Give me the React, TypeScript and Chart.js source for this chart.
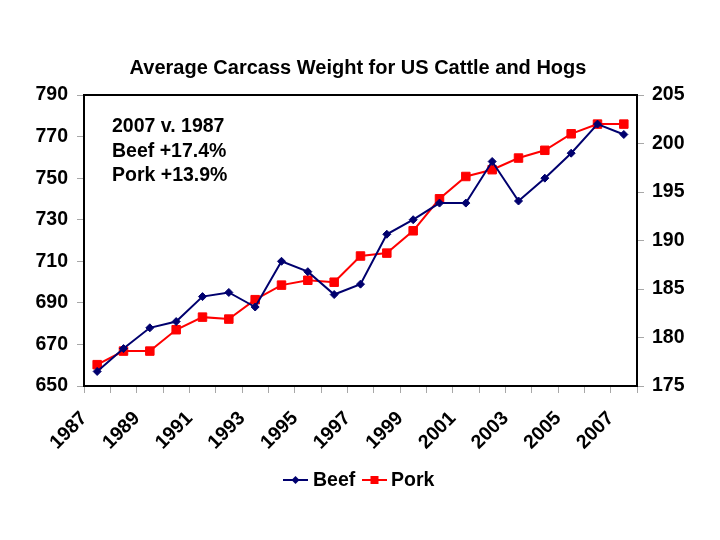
import React, { useEffect, useRef } from 'react'
import Chart, { ChartConfiguration, Plugin } from 'chart.js/auto'

const years = [
  '1987', '1988', '1989', '1990', '1991', '1992', '1993', '1994', '1995', '1996', '1997',
  '1998', '1999', '2000', '2001', '2002', '2003', '2004', '2005', '2006', '2007',
]
const beefWeights = [657, 668, 678, 681, 693, 695, 688, 710, 705, 694, 699, 723, 730, 738, 738, 758, 739, 750, 762, 776, 771]
const porkWeights = [
  177.2, 178.6, 178.6, 180.8, 182.1, 181.9, 183.9, 185.4, 185.9, 185.7, 188.4,
  188.7, 191.0, 194.3, 196.6, 197.3, 198.5, 199.3, 201.0, 202.0, 202.0,
]
const seriesNames = ['Beef', 'Pork']
const chartTitle = 'Average Carcass Weight for US Cattle and Hogs'
const noteLines = ['2007 v. 1987', 'Beef +17.4%', 'Pork +13.9%']

const FONT = 'Arial, "Liberation Sans", sans-serif'
const BEEF_COLOR = '#00006e'
const PORK_COLOR = '#ff0000'
const TICK_COLOR = '#a8a8a8'

// frame, title, note and a legend that shows line + marker like Excel
const decorations: Plugin<'line'> = {
  id: 'decorations',
  afterDraw(chart) {
    const { ctx, chartArea } = chart
    ctx.save()
    ctx.strokeStyle = '#000'
    ctx.lineWidth = 2
    ctx.strokeRect(chartArea.left, chartArea.top, chartArea.right - chartArea.left, chartArea.bottom - chartArea.top)

    ctx.fillStyle = '#000'
    ctx.font = `bold 20px ${FONT}`
    ctx.textAlign = 'center'
    ctx.textBaseline = 'middle'
    ctx.fillText(chartTitle, 358, 68)

    ctx.font = `bold 19.5px ${FONT}`
    ctx.textAlign = 'left'
    noteLines.forEach((line, i) => ctx.fillText(line, 112, 127 + i * 24.5))

    const y = 480
    // Beef: line + small diamond
    ctx.lineWidth = 2
    ctx.strokeStyle = BEEF_COLOR
    ctx.fillStyle = BEEF_COLOR
    ctx.beginPath()
    ctx.moveTo(283, y)
    ctx.lineTo(308, y)
    ctx.stroke()
    ctx.beginPath()
    ctx.moveTo(295.5, y - 4)
    ctx.lineTo(299.5, y)
    ctx.lineTo(295.5, y + 4)
    ctx.lineTo(291.5, y)
    ctx.closePath()
    ctx.fill()
    // Pork: line + square
    ctx.strokeStyle = PORK_COLOR
    ctx.fillStyle = PORK_COLOR
    ctx.beginPath()
    ctx.moveTo(362, y)
    ctx.lineTo(387, y)
    ctx.stroke()
    ctx.fillRect(370.5, y - 4, 8, 8)

    ctx.fillStyle = '#000'
    ctx.fillText(seriesNames[0], 313, y + 1)
    ctx.fillText(seriesNames[1], 391, y + 1)
    ctx.restore()
  },
}

const App = () => {
  const chartRef = useRef<HTMLCanvasElement>(null)
  const chartInstance = useRef<Chart<'line'>>()

  useEffect(() => {
    if (chartRef.current) {
      const ctx = chartRef.current.getContext('2d')
      if (ctx) {
        const tickFont = { family: FONT, size: 19.5, weight: 'bold' as const }
        const config: ChartConfiguration<'line', number[], string> = {
          type: 'line',
          data: {
            labels: years,
            datasets: [
              {
                label: seriesNames[0],
                data: beefWeights,
                yAxisID: 'y',
                borderColor: BEEF_COLOR,
                backgroundColor: BEEF_COLOR,
                borderWidth: 2,
                pointStyle: 'rectRot',
                pointRadius: 4,
                pointBorderWidth: 1,
                tension: 0,
              },
              {
                label: seriesNames[1],
                data: porkWeights,
                yAxisID: 'y1',
                borderColor: PORK_COLOR,
                backgroundColor: PORK_COLOR,
                borderWidth: 2,
                pointStyle: 'rect',
                pointRadius: 6,
                pointBorderWidth: 1,
                tension: 0,
              },
            ],
          },
          options: {
            animation: false,
            responsive: false,
            layout: { padding: { top: 95, left: 0, right: 0, bottom: 0 } },
            plugins: {
              legend: { display: false },
              title: { display: false },
              tooltip: { enabled: false },
            },
            scales: {
              x: {
                offset: true,
                grid: { offset: true, drawOnChartArea: false, drawTicks: true, tickLength: 7, color: TICK_COLOR, lineWidth: 1 },
                border: { display: false },
                ticks: {
                  color: '#000',
                  font: tickFont,
                  autoSkip: false,
                  maxRotation: 45,
                  minRotation: 45,
                  padding: 14,
                  labelOffset: -13,
                  callback: (_v, i) => (i % 2 === 0 ? years[i] : ''),
                },
                afterFit: (scale) => {
                  scale.height = 154
                },
              },
              y: {
                position: 'left',
                min: 650,
                max: 790,
                grid: { drawOnChartArea: false, tickLength: 7, color: TICK_COLOR },
                border: { display: false },
                ticks: { stepSize: 20, color: '#000', font: tickFont, padding: 9 },
                afterFit: (scale) => {
                  scale.width = 84
                },
              },
              y1: {
                position: 'right',
                min: 175,
                max: 205,
                grid: { drawOnChartArea: false, tickLength: 7, color: TICK_COLOR },
                border: { display: false },
                ticks: { stepSize: 5, color: '#000', font: tickFont, padding: 8 },
                afterFit: (scale) => {
                  scale.width = 83
                },
              },
            },
          },
          plugins: [decorations],
        }
        chartInstance.current = new Chart(ctx, config)
      }
    }

    return () => {
      if (chartInstance.current) {
        chartInstance.current.destroy()
      }
    }
  }, [])

  return (
    <div style={{ position: 'fixed', left: 0, top: 0, width: 720, height: 540, background: '#fff' }}>
      <canvas ref={chartRef} width={720} height={540} />
    </div>
  )
}

export default App
